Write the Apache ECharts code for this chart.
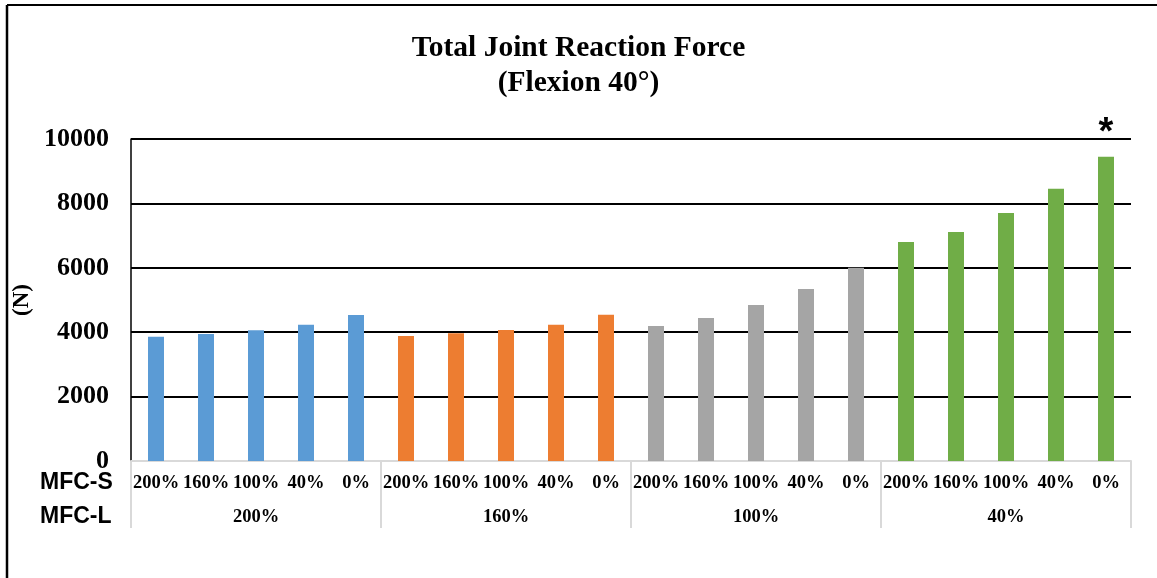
<!DOCTYPE html>
<html>
<head>
<meta charset="utf-8">
<script src="https://cdn.jsdelivr.net/npm/echarts@6/dist/echarts.min.js"></script>
<style>
  html, body { margin: 0; padding: 0; background: #fff; }
  #chart { width: 1157px; height: 578px; }
</style>
</head>
<body>
<div id="chart"></div>
<script>
  // MFC-S levels (inner row) and MFC-L groups (outer row)
  const mfcS = ['200%', '160%', '100%', '40%', '0%']
  const mfcL = ['200%', '160%', '100%', '40%']
  // values (N), one array per MFC-L group
  const group200 = [3860, 3945, 4060, 4230, 4535]
  const group160 = [3880, 3965, 4065, 4230, 4545]
  const group100 = [4190, 4440, 4845, 5345, 6005]
  const group40 = [6805, 7115, 7705, 8455, 9450]
  const yTicks = [0, 2000, 4000, 6000, 8000, 10000]
  const groupColors = ['#5b9bd5', '#ed7d31', '#a5a5a5', '#70ad47']

  const serif = 'Liberation Serif, Times New Roman, serif'
  const groups = [group200, group160, group100, group40]
  const categories = []
  const values = []
  groups.forEach((g, gi) => {
    g.forEach((v, i) => {
      categories.push(mfcS[i])
      values.push({ value: v, itemStyle: { color: groupColors[gi] } })
    })
  })
  // significance mark on the last bar
  values[values.length - 1].label = {
    show: true,
    position: 'top',
    distance: 4,
    formatter: '*',
    fontSize: 38,
    fontWeight: 'bold',
    fontFamily: 'Liberation Sans, Arial, sans-serif',
    color: '#000'
  }

  const chart = echarts.init(document.getElementById('chart'))
  const option = {
    animation: false,
    title: {
      text: 'Total Joint Reaction Force\n(Flexion 40°)',
      left: 'center',
      top: 26,
      textStyle: {
        fontFamily: serif,
        fontSize: 29.5,
        fontWeight: 'bold',
        color: '#000',
        lineHeight: 35
      }
    },
    grid: { left: 131, right: 26, top: 139, bottom: 117 },
    xAxis: [
      {
        type: 'category',
        data: categories,
        axisLine: { show: false },
        axisTick: { show: false },
        axisLabel: {
          interval: 0,
          margin: 13,
          fontFamily: serif,
          fontSize: 18.5,
          fontWeight: 'bold',
          color: '#000'
        }
      },
      {
        type: 'category',
        position: 'bottom',
        data: mfcL,
        axisLine: { show: true, lineStyle: { color: '#d9d9d9', width: 2 } },
        axisTick: { show: true, length: 67, lineStyle: { color: '#d9d9d9', width: 2 } },
        axisLabel: {
          margin: 47,
          fontFamily: serif,
          fontSize: 18.5,
          fontWeight: 'bold',
          color: '#000'
        }
      }
    ],
    yAxis: {
      type: 'value',
      min: yTicks[0],
      max: yTicks[yTicks.length - 1],
      interval: yTicks[1] - yTicks[0],
      name: '(N)',
      nameLocation: 'middle',
      nameGap: 86,
      nameTextStyle: {
        fontFamily: serif,
        fontSize: 23,
        fontWeight: 'bold',
        color: '#000'
      },
      axisLine: { show: true, lineStyle: { color: '#000', width: 1.5 } },
      axisTick: { show: false },
      axisLabel: {
        margin: 22,
        fontFamily: serif,
        fontSize: 26,
        fontWeight: 'bold',
        color: '#000',
        formatter: v => String(v)
      },
      splitLine: {
        lineStyle: {
          color: ['rgba(0,0,0,0)', '#000', '#000', '#000', '#000', '#000'],
          width: 2
        }
      }
    },
    graphic: [
      // frame of the figure
      { type: 'line', shape: { x1: 7, y1: 5, x2: 1157, y2: 5 }, style: { stroke: '#000', lineWidth: 2 } },
      { type: 'line', shape: { x1: 7, y1: 5, x2: 7, y2: 578 }, style: { stroke: '#000', lineWidth: 2.5 } },
      {
        type: 'text', left: 40, top: 471,
        style: { text: 'MFC-S', font: 'bold 23px Liberation Sans, Arial, sans-serif', fill: '#000' }
      },
      {
        type: 'text', left: 40, top: 505,
        style: { text: 'MFC-L', font: 'bold 23px Liberation Sans, Arial, sans-serif', fill: '#000' }
      }
    ],
    series: [
      {
        type: 'bar',
        xAxisIndex: 0,
        barWidth: 16,
        data: values
      }
    ]
  }
  chart.setOption(option, true)
  window.addEventListener('resize', () => {
    chart.resize()
  })
</script>
</body>
</html>
